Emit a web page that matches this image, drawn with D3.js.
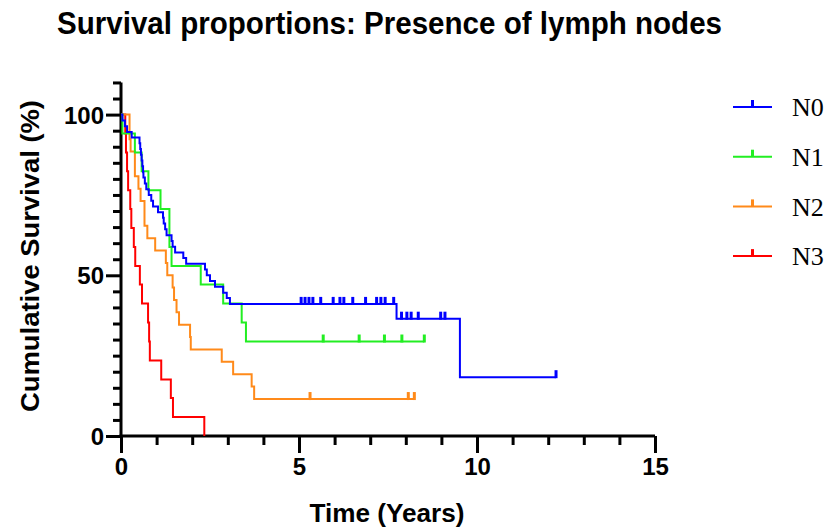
<!DOCTYPE html>
<html>
<head>
<meta charset="utf-8">
<title>Survival proportions</title>
<script src="https://cdn.jsdelivr.net/npm/d3@7"></script>
<style>
body { margin: 0; background: #fff; }
svg { font-family: "Liberation Sans", Arial, sans-serif; }
.line { fill: none; stroke-width: 2px; }
.axis path, .axis line { stroke: #000; stroke-width: 3px; }
.axis text { font-weight: bold; font-size: 24px; fill: #000; }
</style>
</head>
<body>
<svg width="830" height="529"></svg>
<script>
// Kaplan-Meier steps (years, % surviving)
var groups = ["N0", "N1", "N2", "N3"];
var colors = ["#0000ff", "#22ee22", "#ff8a1a", "#ff0000"];

var n0Time = [0, 0.04, 0.11, 0.17, 0.30, 0.52, 0.54, 0.56, 0.58, 0.60, 0.62, 0.63, 0.67, 0.71, 0.78, 0.85, 0.90,
              1.04, 1.18, 1.20, 1.24, 1.28, 1.42, 1.45, 1.52, 1.75, 1.83, 2.36, 2.41, 2.50, 2.64, 2.87, 2.97, 3.06,
              7.74, 9.52];
var n0Surv = [100, 98.2, 96.4, 94.6, 92.9, 91.1, 89.3, 87.5, 85.7, 83.9, 82.1, 80.4, 78.6, 76.8, 75.0, 73.2, 71.4,
              69.6, 67.9, 66.1, 64.3, 62.5, 60.7, 58.9, 57.1, 55.4, 53.6, 51.8, 50.0, 48.2, 46.4, 44.6, 42.9, 41.1,
              36.5, 18.3];
var n0Censor = [5.06, 5.17, 5.28, 5.39, 5.61, 5.96, 6.15, 6.26, 6.51, 6.87, 7.18, 7.30, 7.42, 7.66,
                7.88, 8.03, 8.15, 8.35, 8.98, 9.10, 12.22];

var n1Time = [0, 0.04, 0.39, 0.58, 0.77, 1.11, 1.36, 1.42, 2.24, 2.87, 3.39, 3.51];
var n1Surv = [100, 94.1, 88.2, 82.4, 76.5, 70.6, 58.8, 52.9, 47.1, 41.2, 35.3, 29.4];
var n1Censor = [5.68, 6.69, 7.40, 7.89, 8.52];

var n2Time = [0, 0.24, 0.27, 0.39, 0.49, 0.55, 0.66, 0.74, 0.96, 1.26, 1.30, 1.45, 1.49, 1.56, 1.63, 1.94, 1.96,
              2.83, 3.15, 3.67, 3.74];
var n2Surv = [100, 92.3, 88.5, 80.8, 76.9, 73.1, 65.4, 61.5, 57.7, 53.8, 50.0, 46.2, 42.3, 38.5, 34.6, 30.8, 26.9,
              23.1, 19.2, 15.4, 11.5];
var n2Censor = [5.31, 8.07, 8.24];

var n3Time = [0, 0.12, 0.14, 0.17, 0.20, 0.26, 0.29, 0.36, 0.40, 0.53, 0.59, 0.76, 0.79, 0.81, 1.13, 1.40, 1.46, 2.34];
var n3Surv = [100, 94.1, 88.2, 82.4, 76.5, 70.6, 64.7, 58.8, 52.9, 47.1, 41.2, 35.3, 29.4, 23.5, 17.6, 11.8, 5.9, 0];
var n3Censor = [];

var xTicks = d3.range(0, 16, 1);
var yTicks = d3.range(0, 111, 5);

var series = [
  {id: "N0", time: n0Time, surv: n0Surv, censor: n0Censor},
  {id: "N1", time: n1Time, surv: n1Surv, censor: n1Censor},
  {id: "N2", time: n2Time, surv: n2Surv, censor: n2Censor},
  {id: "N3", time: n3Time, surv: n3Surv, censor: n3Censor}
];

var svg = d3.select("svg");

var x = d3.scaleLinear().domain([0, 15]).range([121, 655]),
    y = d3.scaleLinear().domain([0, 100]).range([436, 114.6]),
    z = d3.scaleOrdinal().domain(groups).range(colors);

function survAt(s, t) {
  var v = s.surv[0];
  for (var i = 0; i < s.time.length; i++) if (s.time[i] <= t) v = s.surv[i];
  return v;
}

var line = d3.line()
    .curve(d3.curveStepAfter)
    .x(function(d) { return x(d.t); })
    .y(function(d) { return y(d.s); });

// axes
var gx = svg.append("g")
    .attr("class", "axis")
    .attr("transform", "translate(0,436)")
    .call(d3.axisBottom(x).tickValues(xTicks).tickSizeOuter(0)
      .tickFormat(function(d) { return d % 5 === 0 ? d : ""; }));
gx.selectAll(".tick line").attr("y2", function(d) { return d % 5 === 0 ? 17 : 9; });
gx.selectAll(".tick text").attr("y", 39).attr("dy", 0);

var gy = svg.append("g")
    .attr("class", "axis")
    .attr("transform", "translate(121,0)")
    .call(d3.axisLeft(y).tickValues(yTicks).tickSizeOuter(0)
      .tickFormat(function(d) { return d % 50 === 0 ? d : ""; }));
gy.selectAll(".tick line").attr("x2", function(d) { return d % 50 === 0 ? -15 : -8; });
gy.selectAll(".tick text").attr("x", -17).attr("dy", "0.36em");
gy.select(".domain").attr("d", "M0," + (y(0) + 1.5) + "V" + y(110));
gx.select(".domain").attr("d", "M" + (x(0) - 1.5) + ",0H" + x(15));

// curves, N0 drawn last so it sits on top
var city = svg.selectAll(".grp")
  .data(series.slice().reverse())
  .enter().append("g")
    .attr("class", "grp");

city.append("path")
    .attr("class", "line")
    .attr("d", function(d) {
      var pts = d.time.map(function(t, i) { return {t: t, s: d.surv[i]}; });
      if (d.censor.length) pts.push({t: d3.max(d.censor), s: d.surv[d.surv.length - 1]});
      return line(pts);
    })
    .style("stroke", function(d) { return z(d.id); });

city.each(function(d) {
  d3.select(this).selectAll(".cen")
    .data(d.censor)
    .enter().append("line")
      .attr("x1", function(t) { return x(t); })
      .attr("x2", function(t) { return x(t); })
      .attr("y1", function(t) { return y(survAt(d, t)) + 1; })
      .attr("y2", function(t) { return y(survAt(d, t)) - 7; })
      .style("stroke", z(d.id))
      .style("stroke-width", 3);
});

// legend
var leg = svg.selectAll(".leg")
  .data(groups)
  .enter().append("g")
    .attr("class", "leg")
    .attr("transform", function(d, i) { return "translate(733," + (107 + i * 49.7) + ")"; });

leg.append("line")
    .attr("x1", 0).attr("x2", 39)
    .style("stroke", function(d) { return z(d); })
    .style("stroke-width", 2);
leg.append("line")
    .attr("x1", 19.5).attr("x2", 19.5).attr("y1", 0).attr("y2", -7)
    .style("stroke", function(d) { return z(d); })
    .style("stroke-width", 3);
leg.append("text")
    .attr("x", 59)
    .attr("dy", "0.36em")
    .style("font", "26px 'Liberation Serif', 'Times New Roman', serif")
    .text(function(d) { return d; });

// titles
svg.append("text")
    .attr("x", 389.5).attr("y", 34)
    .attr("text-anchor", "middle")
    .attr("textLength", 665).attr("lengthAdjust", "spacingAndGlyphs")
    .style("font-weight", "bold").style("font-size", "31px")
    .text("Survival proportions: Presence of lymph nodes");

svg.append("text")
    .attr("x", 387).attr("y", 522)
    .attr("text-anchor", "middle")
    .attr("textLength", 155).attr("lengthAdjust", "spacingAndGlyphs")
    .style("font-weight", "bold").style("font-size", "25px")
    .text("Time (Years)");

svg.append("text")
    .attr("transform", "translate(39,256) rotate(-90)")
    .attr("text-anchor", "middle")
    .attr("textLength", 312).attr("lengthAdjust", "spacingAndGlyphs")
    .style("font-weight", "bold").style("font-size", "25px")
    .text("Cumulative Survival (%)");
</script>
</body>
</html>
